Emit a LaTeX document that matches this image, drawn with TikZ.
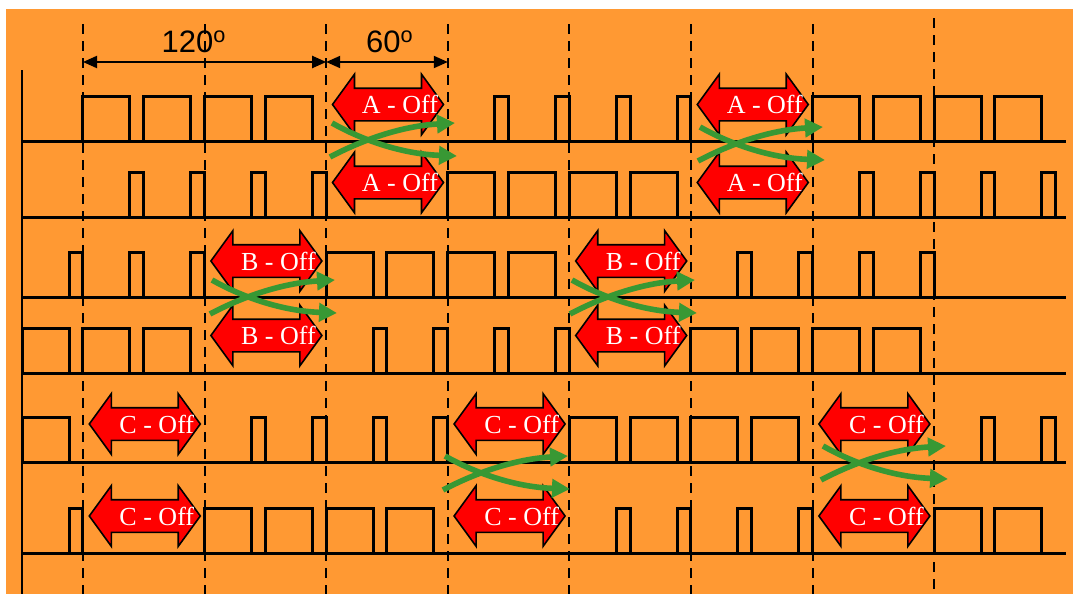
\documentclass[tikz,border=0pt]{standalone}
\usepackage{fontspec}
\setmainfont{Liberation Serif}
\newfontfamily\dimfont{Liberation Sans}
\usepackage{tikz}
\usetikzlibrary{shapes.arrows,positioning,arrows.meta}
\definecolor{bgorange}{RGB}{255,153,51}
\definecolor{offred}{RGB}{255,0,0}
\definecolor{swapgreen}{RGB}{56,152,52}

\begin{document}
\begin{tikzpicture}[
    x=0.5pt, y=-0.5pt,
    wave/.style={line width=1.5pt, line join=miter},
    sectorline/.style={line width=1pt, dash pattern=on 5pt off 3.5pt},
    dimline/.style={line width=1pt, {Triangle[length=7pt,width=6pt]}-{Triangle[length=7pt,width=6pt]}},
    dimlabel/.style={anchor=base, inner sep=0pt, font=\dimfont\fontsize{15.5}{17}\selectfont},
    offarrow/.style={double arrow, draw=black, fill=offred, line width=0.8pt, inner sep=0pt,
        text height=15.5pt, text depth=0pt, double arrow head extend=7pt,
        double arrow tip angle=108, minimum height=55.5pt},
    offlabel/.style={text=white, inner sep=0pt, font=\fontsize{13}{15}\selectfont},
    swaparrow/.style={swapgreen, line width=2.8pt, -{Triangle[length=9pt,width=9pt]}}
]

% background
\fill[bgorange] (6,9) rectangle (1073,594);
\useasboundingbox (0,0) rectangle (1073,594);

% 60 degree sector borders
\foreach \i in {0,...,6}
  \draw[sectorline] ({83+121.6*\i},24) coordinate (top\i) -- ({83+121.6*\i},594);
\draw[sectorline] (934.2,18) coordinate (top7) -- (934.2,594);

% time axis
\draw[line width=1.2pt] (22,70) -- (22,594);

% angle marks
\draw[dimline] (83,62) -- (326.2,62);
\draw[dimline] (326.2,62) -- (447.8,62);
\node[dimlabel] (deg120) at (194,53) {120\textsuperscript{o}};
\node[dimlabel] (deg60) at (390,53) {60\textsuperscript{o}};

% switching signals, upper and lower switch of each phase
\foreach \bu/\bl/\wlist/\nlist in {141/217/{1,2,3,4,13,14,15,16}/{7,8,9,10},
                                   297/373/{5,6,7,8}/{0,1,2,11,12,13,14},
                                   462/553/{0,9,10,11,12}/{3,4,5,6,15,16}} {
  \draw[wave] (22,\bu) -- (1066,\bu);
  \draw[wave] (22,\bl) -- (1066,\bl);
  \foreach \j in \wlist {
    \draw[wave] ({22+60.8*\j},\bu) |- ({69+60.8*\j},{\bu-45}) -- ({69+60.8*\j},\bu);
    \draw[wave] ({69+60.8*\j},\bl) |- ({82.8+60.8*\j},{\bl-45}) -- ({82.8+60.8*\j},\bl);
  }
  \foreach \j in \nlist {
    \draw[wave] ({69+60.8*\j},\bu) |- ({82.8+60.8*\j},{\bu-45}) -- ({82.8+60.8*\j},\bu);
    \draw[wave] ({22+60.8*\j},\bl) |- ({69+60.8*\j},{\bl-45}) -- ({69+60.8*\j},\bl);
  }
}

% off intervals
\foreach \ph/\s/\yu/\yl in {A/2/104.5/182.5, A/5/104.5/182.5, B/1/261/335.5, B/4/261/335.5,
                            C/0/424/516, C/3/424/516, C/6/424/516} {
  \node[offarrow] (\ph up\s) at ({144.8+121.6*\s},\yu) {};
  \node[offarrow] (\ph dn\s) at ({144.8+121.6*\s},\yl) {};
  \node[offlabel] at ([xshift=6pt]\ph up\s.center) {\ph{} - Off};
  \node[offlabel] at ([xshift=6pt]\ph dn\s.center) {\ph{} - Off};
}

% commutation
\foreach \cx/\cy in {367/140, 735/144, 247/297, 607/297, 480/473, 858/463} {
  \draw[swaparrow] ({\cx-35},{\cy-17}) .. controls ({\cx-5},\cy) and ({\cx+35},{\cy+14}) .. ({\cx+90},{\cy+16});
  \draw[swaparrow] ({\cx-37},{\cy+17}) .. controls ({\cx-5},\cy) and ({\cx+35},{\cy-14}) .. ({\cx+88},{\cy-17});
}

\end{tikzpicture}
\end{document}
